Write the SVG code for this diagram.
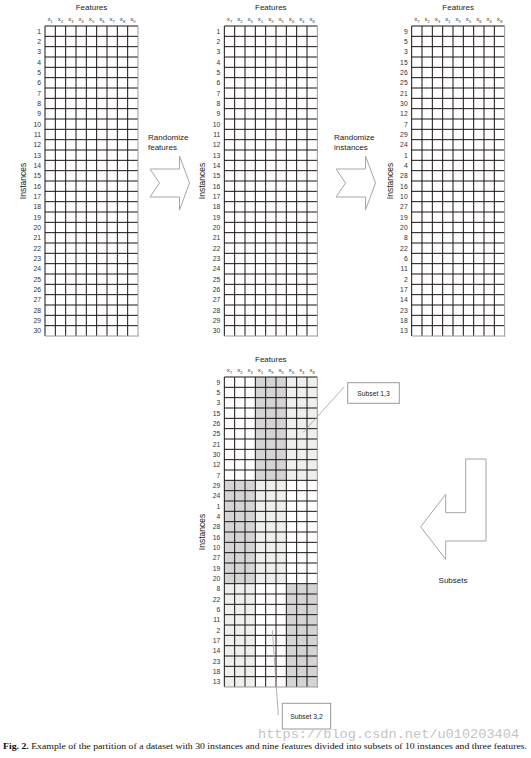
<svg xmlns="http://www.w3.org/2000/svg" xmlns:xlink="http://www.w3.org/1999/xlink" width="531" height="758" viewBox="0 0 531 758">
<style>
text{font-family:"Liberation Sans",Arial,sans-serif;fill:#222}
.ttl{font-size:8px;text-anchor:middle}
.rl{font-size:6.8px;text-anchor:end;fill:#333}
.cl{font-size:6.2px;text-anchor:middle;fill:#333}
.sub{font-size:4px}
.inst{font-size:8.5px;text-anchor:middle}
.lbl{font-size:8px}
.cap{font-family:"Liberation Serif","Times New Roman",serif;font-size:8.5px;fill:#111}
.wm{font-family:"Liberation Mono","DejaVu Sans Mono",monospace;font-size:13.6px;fill:#c4c4c4}
.grid{fill:none;stroke:#1a1212;stroke-width:1}
.edge{fill:none;stroke:#9a9a9a;stroke-width:1}
.arrow{fill:#fff;stroke:#a6a6a6;stroke-width:1}
.box{fill:#fff;stroke:#9a9a9a;stroke-width:1}
.lead{stroke:#a0a0a0;stroke-width:0.8;fill:none}
.dk{fill:#d4d4d4}
.lt{fill:#eef0ee}
.bt{font-size:6.8px;text-anchor:middle}
</style>
<defs>
<path id="g" class="grid" d="M0 0V310M10.33 0V310M20.67 0V310M31 0V310M41.33 0V310M51.67 0V310M62 0V310M72.33 0V310M82.67 0V310M0 0H93M0 10.33H93M0 20.67H93M0 31H93M0 41.33H93M0 51.67H93M0 62H93M0 72.33H93M0 82.67H93M0 93H93M0 103.33H93M0 113.67H93M0 124H93M0 134.33H93M0 144.67H93M0 155H93M0 165.33H93M0 175.67H93M0 186H93M0 196.33H93M0 206.67H93M0 217H93M0 227.33H93M0 237.67H93M0 248H93M0 258.33H93M0 268.67H93M0 279H93M0 289.33H93M0 299.67H93"/>
<path id="e" class="edge" d="M93 0V310.5M0 310H93.5"/>
</defs>

<g id="grid-original" transform="translate(45,26)">
<use xlink:href="#g"/><use xlink:href="#e"/>
<text class="ttl" x="46.5" y="-16">Features</text>
<text class="inst" transform="translate(-19,155) rotate(-90)">Instances</text>
<g>
<text class="cl" x="5.17" y="-5">x<tspan class="sub" dy="1.5">1</tspan></text>
<text class="cl" x="15.5" y="-5">x<tspan class="sub" dy="1.5">2</tspan></text>
<text class="cl" x="25.83" y="-5">x<tspan class="sub" dy="1.5">3</tspan></text>
<text class="cl" x="36.17" y="-5">x<tspan class="sub" dy="1.5">4</tspan></text>
<text class="cl" x="46.5" y="-5">x<tspan class="sub" dy="1.5">5</tspan></text>
<text class="cl" x="56.83" y="-5">x<tspan class="sub" dy="1.5">6</tspan></text>
<text class="cl" x="67.17" y="-5">x<tspan class="sub" dy="1.5">7</tspan></text>
<text class="cl" x="77.5" y="-5">x<tspan class="sub" dy="1.5">8</tspan></text>
<text class="cl" x="87.83" y="-5">x<tspan class="sub" dy="1.5">9</tspan></text>
</g>
<g>
<text class="rl" x="-4" y="7.67">1</text><text class="rl" x="-4" y="18">2</text><text class="rl" x="-4" y="28.33">3</text><text class="rl" x="-4" y="38.67">4</text><text class="rl" x="-4" y="49">5</text><text class="rl" x="-4" y="59.33">6</text><text class="rl" x="-4" y="69.67">7</text><text class="rl" x="-4" y="80">8</text><text class="rl" x="-4" y="90.33">9</text><text class="rl" x="-4" y="100.67">10</text>
<text class="rl" x="-4" y="111">11</text><text class="rl" x="-4" y="121.33">12</text><text class="rl" x="-4" y="131.67">13</text><text class="rl" x="-4" y="142">14</text><text class="rl" x="-4" y="152.33">15</text><text class="rl" x="-4" y="162.67">16</text><text class="rl" x="-4" y="173">17</text><text class="rl" x="-4" y="183.33">18</text><text class="rl" x="-4" y="193.67">19</text><text class="rl" x="-4" y="204">20</text>
<text class="rl" x="-4" y="214.33">21</text><text class="rl" x="-4" y="224.67">22</text><text class="rl" x="-4" y="235">23</text><text class="rl" x="-4" y="245.33">24</text><text class="rl" x="-4" y="255.67">25</text><text class="rl" x="-4" y="266">26</text><text class="rl" x="-4" y="276.33">27</text><text class="rl" x="-4" y="286.67">28</text><text class="rl" x="-4" y="297">29</text><text class="rl" x="-4" y="307.33">30</text>
</g>
</g>

<g id="grid-features" transform="translate(224.33,26)">
<use xlink:href="#g"/><use xlink:href="#e"/>
<text class="ttl" x="46.5" y="-16">Features</text>
<text class="inst" transform="translate(-19,155) rotate(-90)">Instances</text>
<g>
<text class="cl" x="5.17" y="-5">x<tspan class="sub" dy="1.5">7</tspan></text>
<text class="cl" x="15.5" y="-5">x<tspan class="sub" dy="1.5">2</tspan></text>
<text class="cl" x="25.83" y="-5">x<tspan class="sub" dy="1.5">3</tspan></text>
<text class="cl" x="36.17" y="-5">x<tspan class="sub" dy="1.5">1</tspan></text>
<text class="cl" x="46.5" y="-5">x<tspan class="sub" dy="1.5">9</tspan></text>
<text class="cl" x="56.83" y="-5">x<tspan class="sub" dy="1.5">5</tspan></text>
<text class="cl" x="67.17" y="-5">x<tspan class="sub" dy="1.5">6</tspan></text>
<text class="cl" x="77.5" y="-5">x<tspan class="sub" dy="1.5">4</tspan></text>
<text class="cl" x="87.83" y="-5">x<tspan class="sub" dy="1.5">8</tspan></text>
</g>
<g>
<text class="rl" x="-4" y="7.67">1</text><text class="rl" x="-4" y="18">2</text><text class="rl" x="-4" y="28.33">3</text><text class="rl" x="-4" y="38.67">4</text><text class="rl" x="-4" y="49">5</text><text class="rl" x="-4" y="59.33">6</text><text class="rl" x="-4" y="69.67">7</text><text class="rl" x="-4" y="80">8</text><text class="rl" x="-4" y="90.33">9</text><text class="rl" x="-4" y="100.67">10</text>
<text class="rl" x="-4" y="111">11</text><text class="rl" x="-4" y="121.33">12</text><text class="rl" x="-4" y="131.67">13</text><text class="rl" x="-4" y="142">14</text><text class="rl" x="-4" y="152.33">15</text><text class="rl" x="-4" y="162.67">16</text><text class="rl" x="-4" y="173">17</text><text class="rl" x="-4" y="183.33">18</text><text class="rl" x="-4" y="193.67">19</text><text class="rl" x="-4" y="204">20</text>
<text class="rl" x="-4" y="214.33">21</text><text class="rl" x="-4" y="224.67">22</text><text class="rl" x="-4" y="235">23</text><text class="rl" x="-4" y="245.33">24</text><text class="rl" x="-4" y="255.67">25</text><text class="rl" x="-4" y="266">26</text><text class="rl" x="-4" y="276.33">27</text><text class="rl" x="-4" y="286.67">28</text><text class="rl" x="-4" y="297">29</text><text class="rl" x="-4" y="307.33">30</text>
</g>
</g>

<g id="grid-instances" transform="translate(411.67,26)">
<use xlink:href="#g"/><use xlink:href="#e"/>
<text class="ttl" x="46.5" y="-16">Features</text>
<text class="inst" transform="translate(-19,155) rotate(-90)">Instances</text>
<g>
<text class="cl" x="5.17" y="-5">x<tspan class="sub" dy="1.5">7</tspan></text>
<text class="cl" x="15.5" y="-5">x<tspan class="sub" dy="1.5">2</tspan></text>
<text class="cl" x="25.83" y="-5">x<tspan class="sub" dy="1.5">3</tspan></text>
<text class="cl" x="36.17" y="-5">x<tspan class="sub" dy="1.5">1</tspan></text>
<text class="cl" x="46.5" y="-5">x<tspan class="sub" dy="1.5">9</tspan></text>
<text class="cl" x="56.83" y="-5">x<tspan class="sub" dy="1.5">5</tspan></text>
<text class="cl" x="67.17" y="-5">x<tspan class="sub" dy="1.5">6</tspan></text>
<text class="cl" x="77.5" y="-5">x<tspan class="sub" dy="1.5">4</tspan></text>
<text class="cl" x="87.83" y="-5">x<tspan class="sub" dy="1.5">8</tspan></text>
</g>
<g>
<text class="rl" x="-4" y="7.67">9</text><text class="rl" x="-4" y="18">5</text><text class="rl" x="-4" y="28.33">3</text><text class="rl" x="-4" y="38.67">15</text><text class="rl" x="-4" y="49">26</text><text class="rl" x="-4" y="59.33">25</text><text class="rl" x="-4" y="69.67">21</text><text class="rl" x="-4" y="80">30</text><text class="rl" x="-4" y="90.33">12</text><text class="rl" x="-4" y="100.67">7</text>
<text class="rl" x="-4" y="111">29</text><text class="rl" x="-4" y="121.33">24</text><text class="rl" x="-4" y="131.67">1</text><text class="rl" x="-4" y="142">4</text><text class="rl" x="-4" y="152.33">28</text><text class="rl" x="-4" y="162.67">16</text><text class="rl" x="-4" y="173">10</text><text class="rl" x="-4" y="183.33">27</text><text class="rl" x="-4" y="193.67">19</text><text class="rl" x="-4" y="204">20</text>
<text class="rl" x="-4" y="214.33">8</text><text class="rl" x="-4" y="224.67">22</text><text class="rl" x="-4" y="235">6</text><text class="rl" x="-4" y="245.33">11</text><text class="rl" x="-4" y="255.67">2</text><text class="rl" x="-4" y="266">17</text><text class="rl" x="-4" y="276.33">14</text><text class="rl" x="-4" y="286.67">23</text><text class="rl" x="-4" y="297">18</text><text class="rl" x="-4" y="307.33">13</text>
</g>
</g>

<g id="grid-subsets" transform="translate(224.33,377)">
<rect class="dk" x="31" y="0" width="31" height="103.33"/>
<rect class="lt" x="62" y="0" width="31" height="103.33"/>
<rect class="dk" x="0" y="103.33" width="31" height="103.34"/>
<rect class="lt" x="31" y="103.33" width="31" height="103.34"/>
<rect class="lt" x="0" y="206.67" width="31" height="103.33"/>
<rect class="dk" x="62" y="206.67" width="31" height="103.33"/>
<use xlink:href="#g"/><use xlink:href="#e"/>
<text class="ttl" x="46.5" y="-15.5">Features</text>
<text class="inst" transform="translate(-19,155) rotate(-90)">Instances</text>
<g>
<text class="cl" x="5.17" y="-5">x<tspan class="sub" dy="1.5">7</tspan></text>
<text class="cl" x="15.5" y="-5">x<tspan class="sub" dy="1.5">2</tspan></text>
<text class="cl" x="25.83" y="-5">x<tspan class="sub" dy="1.5">3</tspan></text>
<text class="cl" x="36.17" y="-5">x<tspan class="sub" dy="1.5">1</tspan></text>
<text class="cl" x="46.5" y="-5">x<tspan class="sub" dy="1.5">9</tspan></text>
<text class="cl" x="56.83" y="-5">x<tspan class="sub" dy="1.5">5</tspan></text>
<text class="cl" x="67.17" y="-5">x<tspan class="sub" dy="1.5">6</tspan></text>
<text class="cl" x="77.5" y="-5">x<tspan class="sub" dy="1.5">4</tspan></text>
<text class="cl" x="87.83" y="-5">x<tspan class="sub" dy="1.5">8</tspan></text>
</g>
<g>
<text class="rl" x="-4" y="7.67">9</text><text class="rl" x="-4" y="18">5</text><text class="rl" x="-4" y="28.33">3</text><text class="rl" x="-4" y="38.67">15</text><text class="rl" x="-4" y="49">26</text><text class="rl" x="-4" y="59.33">25</text><text class="rl" x="-4" y="69.67">21</text><text class="rl" x="-4" y="80">30</text><text class="rl" x="-4" y="90.33">12</text><text class="rl" x="-4" y="100.67">7</text>
<text class="rl" x="-4" y="111">29</text><text class="rl" x="-4" y="121.33">24</text><text class="rl" x="-4" y="131.67">1</text><text class="rl" x="-4" y="142">4</text><text class="rl" x="-4" y="152.33">28</text><text class="rl" x="-4" y="162.67">16</text><text class="rl" x="-4" y="173">10</text><text class="rl" x="-4" y="183.33">27</text><text class="rl" x="-4" y="193.67">19</text><text class="rl" x="-4" y="204">20</text>
<text class="rl" x="-4" y="214.33">8</text><text class="rl" x="-4" y="224.67">22</text><text class="rl" x="-4" y="235">6</text><text class="rl" x="-4" y="245.33">11</text><text class="rl" x="-4" y="255.67">2</text><text class="rl" x="-4" y="266">17</text><text class="rl" x="-4" y="276.33">14</text><text class="rl" x="-4" y="286.67">23</text><text class="rl" x="-4" y="297">18</text><text class="rl" x="-4" y="307.33">13</text>
</g>
</g>

<g id="connectors">
<g id="arrow-randomize-features">
<polygon class="arrow" points="150,169 179.5,169 179.5,156 189.5,183 179.5,210 179.5,197 150,197 159.5,183"/>
<text class="lbl" x="148" y="140">Randomize</text>
<text class="lbl" x="148" y="149.5">features</text>
</g>
<g id="arrow-randomize-instances">
<polygon class="arrow" points="336,169 365.5,169 365.5,156 375.5,183 365.5,210 365.5,197 336,197 345.5,183"/>
<text class="lbl" x="334" y="140">Randomize</text>
<text class="lbl" x="334" y="149.5">instances</text>
</g>
<g id="arrow-subsets">
<polygon class="arrow" points="465.7,459 465.7,512.7 445.7,512.7 445.7,494.3 420.7,526.8 445.7,559.3 445.7,541 486,541 486,459"/>
<text class="lbl" x="453" y="583" text-anchor="middle">Subsets</text>
</g>
<line class="lead" x1="344.3" y1="386.7" x2="303.3" y2="432.3"/>
<line class="lead" x1="272.3" y1="630" x2="278.3" y2="715"/>
</g>

<g id="callout-subset-1-3">
<rect class="box" x="347.7" y="382.7" width="51.6" height="20.6"/>
<text class="bt" x="373.5" y="395.5">Subset 1,3</text>
</g>
<g id="callout-subset-3-2">
<rect class="box" x="282.3" y="703.3" width="48.4" height="25.7"/>
<text class="bt" x="306.5" y="718.5">Subset 3,2</text>
</g>

<text class="wm" x="258" y="737.5">https://blog.csdn.net/u010203404</text>
<text class="cap" x="3" y="749" textLength="524" lengthAdjust="spacingAndGlyphs"><tspan font-weight="bold">Fig. 2.</tspan> Example of the partition of a dataset with 30 instances and nine features divided into subsets of 10 instances and three features.</text>
</svg>
